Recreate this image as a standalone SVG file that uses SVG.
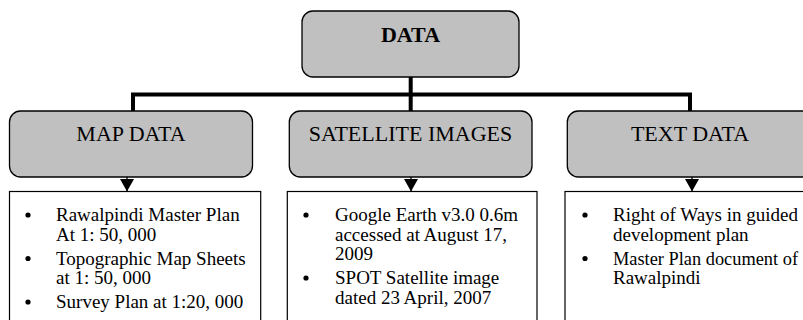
<svg xmlns="http://www.w3.org/2000/svg" width="803" height="320" viewBox="0 0 803 320">
<style>
.hd{fill:#c0c0c0;stroke:#000;stroke-width:1.3}
.bx{fill:#fff;stroke:#000;stroke-width:1.2}
.ht{font-family:"Liberation Serif","Times New Roman",serif;font-size:22px;fill:#000;text-anchor:middle}
.bt{font-family:"Liberation Serif","Times New Roman",serif;font-size:19px;fill:#000}
.con{fill:none;stroke:#000;stroke-width:4}
.stem{stroke:#000;stroke-width:1.3}
</style>
<g id="connectors">
<path class="con" d="M410.7,77 V111 M133,111 V94.5 H690 V111"/>
<path class="stem" d="M127,177 V191.5"/>
<path d="M120,179 L134,179 L127,191.5 Z" fill="#000"/>
<path class="stem" d="M411,177 V191.5"/>
<path d="M404,179 L418,179 L411,191.5 Z" fill="#000"/>
<path class="stem" d="M692,177 V191.5"/>
<path d="M685,179 L699,179 L692,191.5 Z" fill="#000"/>
</g>
<g id="data">
<rect class="hd" x="302" y="11" width="217" height="66" rx="11"/>
<text class="ht" x="410.5" y="41.5" font-weight="bold" font-size="21">DATA</text>
</g>
<g id="map-data">
<rect class="hd" x="9.5" y="111" width="243" height="66" rx="11"/>
<text class="ht" x="131" y="141">MAP DATA</text>
</g>
<g id="satellite-images">
<rect class="hd" x="289.3" y="111" width="242.7" height="66" rx="11"/>
<text class="ht" x="410.5" y="141">SATELLITE IMAGES</text>
</g>
<g id="text-data">
<rect class="hd" x="567.3" y="111" width="250" height="66" rx="11"/>
<text class="ht" x="690" y="141">TEXT DATA</text>
</g>
<g id="map-list">
<rect class="bx" x="9.5" y="191.5" width="251.2" height="140"/>
<circle cx="28" cy="215" r="2.6"/>
<circle cx="28" cy="258.5" r="2.6"/>
<circle cx="28" cy="302" r="2.6"/>
<text class="bt" x="56" y="221">Rawalpindi Master Plan</text>
<text class="bt" x="56" y="240.5">At 1: 50, 000</text>
<text class="bt" x="56" y="264.5">Topographic Map Sheets</text>
<text class="bt" x="56" y="284">at 1: 50, 000</text>
<text class="bt" x="56" y="308">Survey Plan at 1:20, 000</text>
</g>
<g id="satellite-list">
<rect class="bx" x="287.3" y="191.5" width="249.7" height="140"/>
<circle cx="306" cy="215" r="2.6"/>
<circle cx="306" cy="278" r="2.6"/>
<text class="bt" x="335" y="221">Google Earth v3.0 0.6m</text>
<text class="bt" x="335" y="240.5">accessed at August 17,</text>
<text class="bt" x="335" y="260">2009</text>
<text class="bt" x="335" y="284">SPOT Satellite image</text>
<text class="bt" x="335" y="303.5">dated 23 April, 2007</text>
</g>
<g id="text-list">
<rect class="bx" x="565" y="191.5" width="260" height="140"/>
<circle cx="585" cy="215" r="2.6"/>
<circle cx="585" cy="258.5" r="2.6"/>
<text class="bt" x="613" y="221">Right of Ways in guided</text>
<text class="bt" x="613" y="240.5">development plan</text>
<text class="bt" x="613" y="264.5" textLength="185" lengthAdjust="spacingAndGlyphs">Master Plan document of</text>
<text class="bt" x="613" y="284">Rawalpindi</text>
</g>
</svg>
